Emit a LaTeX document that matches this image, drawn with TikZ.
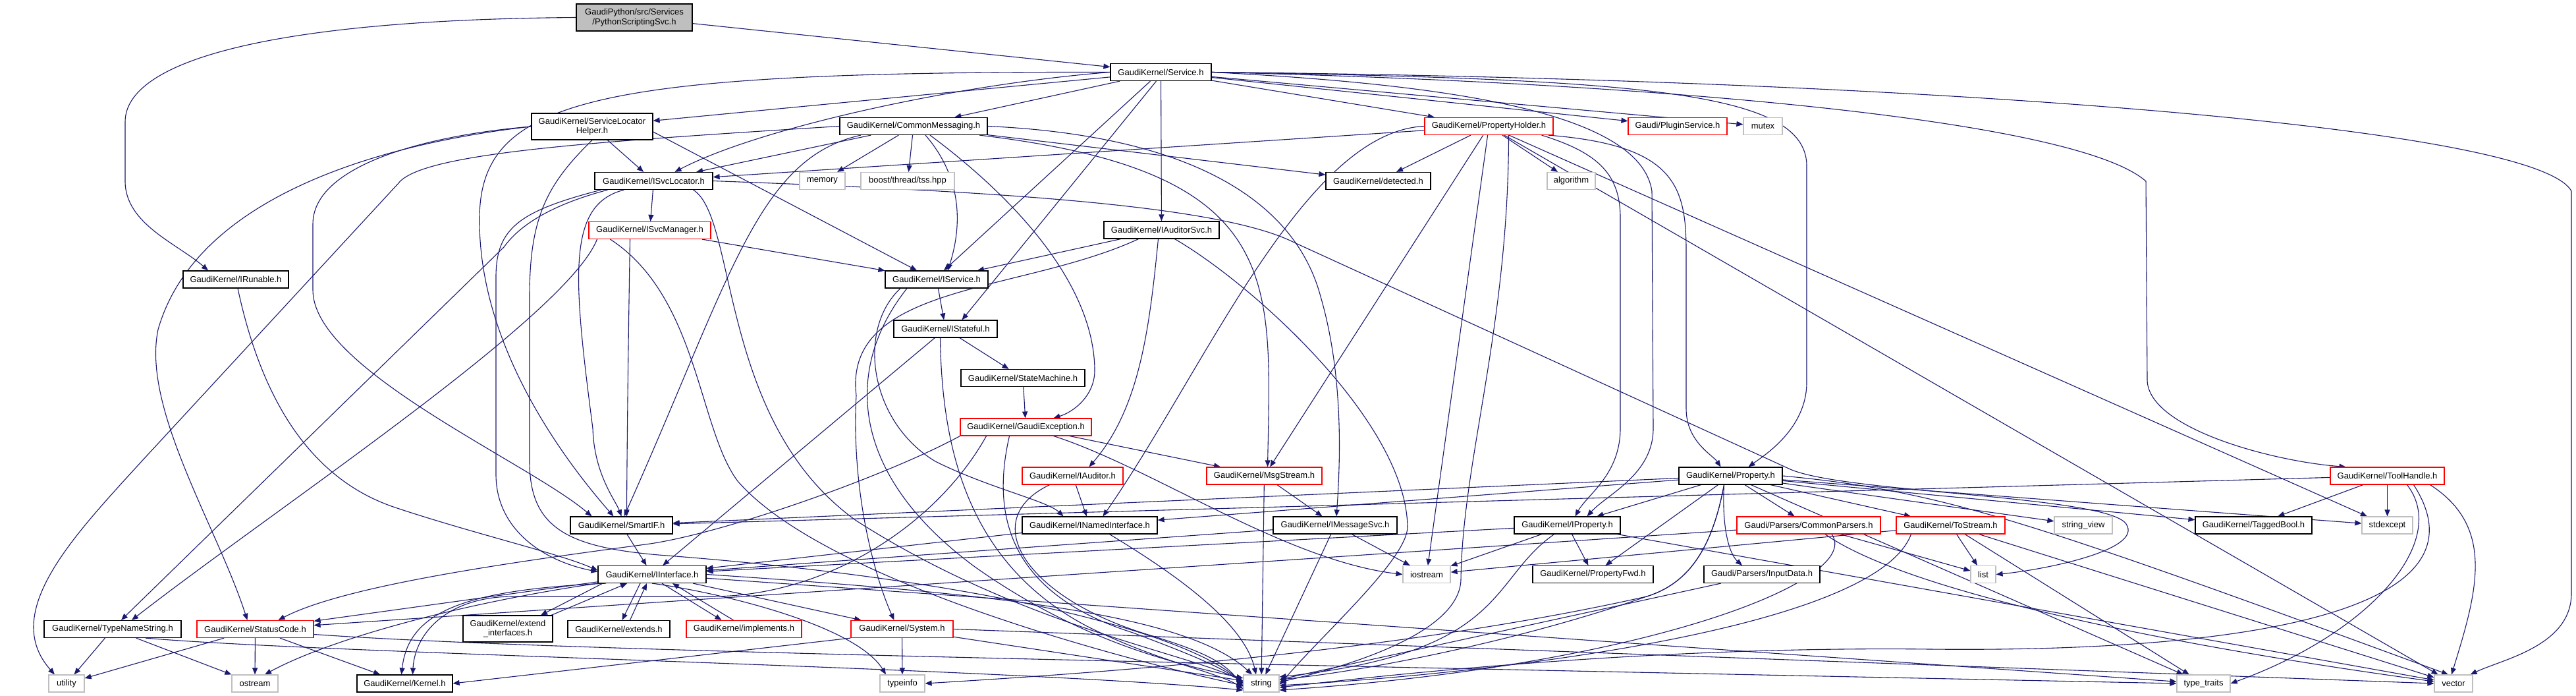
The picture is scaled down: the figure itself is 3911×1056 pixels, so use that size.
\documentclass[tikz,border=0pt]{standalone}
\usepackage{fontspec}
\setmainfont{Liberation Sans}
\usetikzlibrary{arrows.meta,backgrounds}
\definecolor{edgec}{HTML}{191970}
\definecolor{grayb}{HTML}{BFBFBF}
\newcommand\dgfont{\fontsize{13}{14.5}\selectfont}
\begin{document}
\begin{tikzpicture}[x=1pt,y=-1pt,
  nd/.style={draw=black, fill=white, line width=1.2pt, inner sep=0pt, minimum height=26pt, align=center, font=\dgfont},
  rd/.style={nd, draw=red},
  gy/.style={nd, draw=grayb},
  rt/.style={nd, fill=grayb},
  ed/.style={draw=edgec, line width=1.1pt, -{Triangle[length=10pt,width=8pt]}},
]
\useasboundingbox (0,0) rectangle (3911,1056);
% ---------- nodes ----------
\node[rt, minimum width=176pt, minimum height=41pt] (root) at (963,26.5) {GaudiPython/src/Services\\/PythonScriptingSvc.h};
\node[nd, minimum width=153pt] (service) at (1762.5,109.5) {GaudiKernel/Service.h};
\node[nd, minimum width=184pt, minimum height=40pt] (slh) at (899,192) {GaudiKernel/ServiceLocator\\Helper.h};
\node[nd, minimum width=224pt] (cmsg) at (1387,191.5) {GaudiKernel/CommonMessaging.h};
\node[rd, minimum width=195pt] (propholder) at (2260.5,191.5) {GaudiKernel/PropertyHolder.h};
\node[rd, minimum width=150pt] (pluginsvc) at (2547,191.5) {Gaudi/PluginService.h};
\node[gy, minimum width=59pt] (mutex) at (2676.5,191.5) {mutex};
\node[nd, minimum width=179pt] (isvcloc) at (992.5,274.5) {GaudiKernel/ISvcLocator.h};
\node[gy, minimum width=69pt] (memory) at (1248.5,274.5) {memory};
\node[gy, minimum width=142pt] (boost) at (1378,274.5) {boost/thread/tss.hpp};
\node[nd, minimum width=159pt] (detected) at (2092.5,274.5) {GaudiKernel/detected.h};
\node[gy, minimum width=73pt] (algorithm) at (2385.5,274.5) {algorithm};
\node[rd, minimum width=185pt] (isvcmgr) at (986.5,349.5) {GaudiKernel/ISvcManager.h};
\node[nd, minimum width=175pt] (iauditorsvc) at (1763.5,349) {GaudiKernel/IAuditorSvc.h};
\node[nd, minimum width=156pt] (iservice) at (1422,424) {GaudiKernel/IService.h};
\node[nd, minimum width=160pt] (irunable) at (358,424) {GaudiKernel/IRunable.h};
\node[nd, minimum width=157pt] (istateful) at (1435.5,499) {GaudiKernel/IStateful.h};
\node[nd, minimum width=188pt] (statemachine) at (1553,573.5) {GaudiKernel/StateMachine.h};
\node[rd, minimum width=199pt] (gaudiexc) at (1557.5,648) {GaudiKernel/GaudiException.h};
\node[rd, minimum width=153pt] (iauditor) at (1628.5,722) {GaudiKernel/IAuditor.h};
\node[rd, minimum width=175pt] (msgstream) at (1919.5,722) {GaudiKernel/MsgStream.h};
\node[nd, minimum width=157pt] (property) at (2627.5,722) {GaudiKernel/Property.h};
\node[rd, minimum width=173pt] (toolhandle) at (3624.5,722) {GaudiKernel/ToolHandle.h};
\node[nd, minimum width=155pt] (smartif) at (943.5,797) {GaudiKernel/SmartIF.h};
\node[nd, minimum width=205pt] (inamed) at (1654.5,797) {GaudiKernel/INamedInterface.h};
\node[nd, minimum width=188pt] (imsgsvc) at (2027,797) {GaudiKernel/IMessageSvc.h};
\node[nd, minimum width=161pt] (iproperty) at (2379.5,797) {GaudiKernel/IProperty.h};
\node[rd, minimum width=218pt] (commonparsers) at (2746,797) {Gaudi/Parsers/CommonParsers.h};
\node[rd, minimum width=165pt] (tostream) at (2961.5,797) {GaudiKernel/ToStream.h};
\node[gy, minimum width=88pt] (stringview) at (3163,797) {string\_view};
\node[nd, minimum width=177pt] (taggedbool) at (3421.5,797) {GaudiKernel/TaggedBool.h};
\node[gy, minimum width=77pt] (stdexcept) at (3624.5,797) {stdexcept};
\node[nd, minimum width=164pt] (iinterface) at (990,871.5) {GaudiKernel/IInterface.h};
\node[gy, minimum width=72pt] (iostream) at (2166,871.5) {iostream};
\node[nd, minimum width=183pt] (propertyfwd) at (2418.5,871.5) {GaudiKernel/PropertyFwd.h};
\node[nd, minimum width=176pt] (inputdata) at (2675,871.5) {Gaudi/Parsers/InputData.h};
\node[gy, minimum width=38pt] (list) at (3011,871.5) {list};
\node[nd, minimum width=208pt] (typenamestring) at (171,954.5) {GaudiKernel/TypeNameString.h};
\node[rd, minimum width=177pt] (statuscode) at (387.5,954.5) {GaudiKernel/StatusCode.h};
\node[nd, minimum width=136pt, minimum height=40pt] (extendif) at (771,954) {GaudiKernel/extend\\\_interfaces.h};
\node[nd, minimum width=155pt] (extends) at (939.5,954.5) {GaudiKernel/extends.h};
\node[rd, minimum width=175pt] (implements) at (1129.5,954.5) {GaudiKernel/implements.h};
\node[rd, minimum width=155pt] (system) at (1369.5,954.5) {GaudiKernel/System.h};
\node[gy, minimum width=54pt] (utility) at (101,1037) {utility};
\node[gy, minimum width=70pt] (ostream) at (387,1037) {ostream};
\node[nd, minimum width=145pt] (kernel) at (614.5,1037) {GaudiKernel/Kernel.h};
\node[gy, minimum width=68pt] (typeinfo) at (1370,1037) {typeinfo};
\node[gy, minimum width=54pt] (string) at (1915,1037) {string};
\node[gy, minimum width=81pt] (typetraits) at (3345.5,1037) {type\_traits};
\node[gy, minimum width=58pt] (vector) at (3725,1037) {vector};
% ---------- edges ----------
\begin{scope}[on background layer]
\fill[white] (0,0) rectangle (3911,1056);
% root
\draw[ed] (root) -- (service);
\draw[ed] (root.west) .. controls (420,30) and (190,90) .. (190,185) -- (190,275) .. controls (190,340) and (270,370) .. ([xshift=-42]irunable.north);
% Service.h
\draw[ed] (service) -- (slh);
\draw[ed] (service.west) .. controls (1450,128) and (1150,195) .. ([xshift=32]isvcloc.north);
\draw[ed] (service) -- (cmsg);
\draw[ed] (service) -- (iauditorsvc);
\draw[ed] ([xshift=-16]service.south) -- ([xshift=11]iservice.north);
\draw[ed] ([xshift=-7]service.south) -- ([xshift=25]istateful.north);
\draw[ed] (service.west) .. controls (900,108) and (730,150) .. (728,330) .. controls (726,520) and (850,690) .. ([xshift=-12]smartif.north);
\draw[ed] (service) -- (propholder);
\draw[ed] (service) -- (pluginsvc);
\draw[ed] (service) -- (mutex);
\draw[ed] (service.east) .. controls (2500,125) and (3150,180) .. (3258,275) -- (3260,577) .. controls (3262,650) and (3450,700) .. ([xshift=-63]toolhandle.north);
\draw[ed] (service.east) .. controls (2900,120) and (3850,190) .. (3904,290) -- (3904,900) .. controls (3904,980) and (3800,1000) .. ([xshift=-4]vector.north east);
\draw[ed] (service.east) .. controls (2500,120) and (2740,140) .. (2743,250) -- (2743,580) .. controls (2743,650) and (2680,690) .. ([xshift=27]property.north);
\draw[ed] (service.east) .. controls (2200,128) and (2490,170) .. (2508,290) -- (2510,650) .. controls (2510,720) and (2440,750) .. ([xshift=30]iproperty.north);
% ServiceLocatorHelper.h
\draw[ed] (slh) -- (isvcloc);
\draw[ed] ([yshift=-8]slh.east) -- ([xshift=-30]iservice.north);
\draw[ed] (slh.west) .. controls (650,205) and (475,250) .. (475,340) -- (475,440) .. controls (475,560) and (800,700) .. ([xshift=-45]smartif.north);
\draw[ed] (slh.west) .. controls (600,215) and (300,290) .. (240,500) .. controls (215,620) and (330,800) .. ([xshift=-12]statuscode.north);
\draw[ed] (slh.south) .. controls (830,280) and (804,330) .. (804,450) -- (804,700) .. controls (804,800) and (860,830) .. (1000,842) .. controls (1500,880) and (1800,960) .. (string.west);
% CommonMessaging.h
\draw[ed] (cmsg) -- (isvcloc);
\draw[ed] (cmsg) -- (memory);
\draw[ed] (cmsg) -- (boost);
\draw[ed] ([xshift=18]cmsg.south) .. controls (1470,280) and (1455,360) .. ([xshift=17]iservice.north);
\draw[ed] ([xshift=25]cmsg.south) .. controls (1540,300) and (1660,430) .. (1662,560) .. controls (1663,600) and (1630,625) .. ([xshift=42]gaudiexc.north);
\draw[ed] ([xshift=100]cmsg.south) .. controls (1950,260) and (1930,420) .. ([xshift=5]msgstream.north);
\draw[ed] (cmsg.east) .. controls (1800,205) and (1965,300) .. (2005,450) .. controls (2040,570) and (2035,700) .. ([xshift=2]imsgsvc.north);
\draw[ed] (cmsg) -- (detected);
\draw[ed] ([xshift=-80]cmsg.south) .. controls (1150,240) and (1110,420) .. ([xshift=4]smartif.north);
\draw[ed] (cmsg.west) .. controls (900,215) and (640,232) .. (605,278) -- (215,700) .. controls (110,815) and (0,930) .. ([xshift=-18]utility.north);
% PropertyHolder.h
\draw[ed] (propholder) -- (isvcloc);
\draw[ed] (propholder) -- (detected);
\draw[ed] (propholder) -- (algorithm);
\draw[ed] (propholder.west) .. controls (1980,200) and (1830,560) .. ([xshift=20]inamed.north);
\draw[ed] (propholder) -- (msgstream);
\draw[ed] ([xshift=80]propholder.south) .. controls (2420,230) and (2460,260) .. (2460,330) -- (2460,650) .. controls (2460,720) and (2410,750) .. ([xshift=12]iproperty.north);
\draw[ed] ([xshift=90]propholder.south) .. controls (2540,220) and (2560,280) .. (2560,380) -- (2560,620) .. controls (2560,670) and (2600,690) .. ([xshift=-15]property.north);
\draw[ed] (propholder) -- (iostream);
\draw[ed] ([xshift=30]propholder.south) .. controls (2290,500) and (2220,700) .. (2218,880) .. controls (2215,960) and (2050,1010) .. ([yshift=2]string.east);
\draw[ed] (propholder) -- (stdexcept);
\draw[ed] (propholder) -- (vector);
% ISvcLocator.h
\draw[ed] (isvcloc) -- (isvcmgr);
\draw[ed] ([xshift=-80]isvcloc.south) .. controls (790,320) and (753,345) .. (753,420) -- (753,720) .. controls (753,800) and (820,850) .. ([yshift=4]iinterface.west);
\draw[ed] ([xshift=-45]isvcloc.south) .. controls (860,310) and (870,420) .. (900,650) .. controls (902,720) and (935,760) .. (smartif.north);
\draw[ed] ([xshift=-70]isvcloc.south) .. controls (840,310) and (790,340) .. (765,375) -- ([xshift=13]typenamestring.north);
\draw[ed] (isvcloc.east) .. controls (1500,290) and (1850,310) .. (1965,368) -- (2718,712) .. controls (2800,748) and (3200,752) .. (3228,795) .. controls (3255,835) and (3100,865) .. (list.east);
\draw[ed] ([xshift=60]isvcloc.south) .. controls (1120,330) and (1090,640) .. (1300,790) .. controls (1550,950) and (1800,990) .. ([yshift=3]string.west);
% ISvcManager.h
\draw[ed] (isvcmgr) -- (iservice);
\draw[ed] ([xshift=-30]isvcmgr.south) .. controls (955,450) and (952,650) .. ([xshift=8]smartif.north);
\draw[ed] ([xshift=-80]isvcmgr.south) .. controls (860,480) and (420,770) .. ([xshift=29]typenamestring.north);
\draw[ed] ([xshift=-60]isvcmgr.south) .. controls (1060,450) and (1060,650) .. (1120,730) .. controls (1250,880) and (1700,1000) .. ([yshift=-3]string.west);
% IAuditorSvc.h
\draw[ed] (iauditorsvc) -- (iservice);
\draw[ed] ([xshift=-5]iauditorsvc.south) .. controls (1745,500) and (1730,620) .. ([xshift=25]iauditor.north);
\draw[ed] ([xshift=-35]iauditorsvc.south) .. controls (1550,445) and (1280,430) .. (1300,600) .. controls (1292,750) and (1330,880) .. ([xshift=-12]system.north);
\draw[ed] ([xshift=20]iauditorsvc.south) .. controls (1900,430) and (2135,640) .. (2137,800) .. controls (2135,850) and (2010,960) .. ([yshift=-2]string.east);
% IRunable.h
\draw[ed] ([xshift=3]irunable.south) .. controls (400,620) and (480,730) .. (600,770) .. controls (720,810) and (850,840) .. ([yshift=6]iinterface.west);
% IService.h
\draw[ed] (iservice) -- (istateful);
\draw[ed] ([xshift=-55]iservice.south) .. controls (1300,500) and (1320,640) .. (1420,700) .. controls (1500,740) and (1590,760) .. ([xshift=-40]inamed.north);
\draw[ed] ([xshift=-45]iservice.south) .. controls (1280,560) and (1290,720) .. (1480,860) .. controls (1650,980) and (1800,1010) .. ([yshift=8]string.west);
% IStateful.h
\draw[ed] (istateful) -- (statemachine);
\draw[ed] (istateful) -- (iinterface);
\draw[ed] ([xshift=-8]istateful.south) .. controls (1430,700) and (1480,860) .. (1650,950) .. controls (1760,1005) and (1850,1020) .. ([yshift=-8]string.west);
% StateMachine.h
\draw[ed] (statemachine) -- (gaudiexc);
% GaudiException.h
\draw[ed] (gaudiexc) -- (msgstream);
\draw[ed] (gaudiexc.south west) .. controls (1350,720) and (1100,810) .. (980,826) .. controls (760,855) and (520,890) .. ([xshift=35]statuscode.north);
\draw[ed] ([xshift=-60]gaudiexc.south) .. controls (1420,800) and (1250,905) .. (1080,905) -- (780,905) .. controls (680,905) and (630,960) .. ([xshift=12]kernel.north);
\draw[ed] ([xshift=-25]gaudiexc.south) .. controls (1505,780) and (1530,900) .. (1720,960) .. controls (1800,990) and (1850,1010) .. ([yshift=1]string.west);
\draw[ed] (gaudiexc) .. controls (1750,710) and (1950,850) .. (iostream.west);
% IAuditor.h
\draw[ed] (iauditor) -- (inamed);
\draw[ed] ([xshift=-35]iauditor.south) .. controls (1480,790) and (1560,910) .. (1750,965) .. controls (1830,990) and (1860,1005) .. ([yshift=-5]string.west);
% MsgStream.h
\draw[ed] (msgstream) -- (imsgsvc);
\draw[ed] (msgstream) -- (string);
% Property.h
\draw[ed] (property) -- (iproperty);
\draw[ed] (property) -- (propertyfwd);
\draw[ed] (property) -- (commonparsers);
\draw[ed] (property) -- (tostream);
\draw[ed] ([xshift=-10]property.south) .. controls (2614,800) and (2625,840) .. ([xshift=-30]inputdata.north);
\draw[ed] (property) -- (smartif);
\draw[ed] (property) -- (inamed);
\draw[ed] (property) -- (taggedbool);
\draw[ed] (property) -- (stringview);
\draw[ed] (property) -- (stdexcept);
\draw[ed] (property.east) .. controls (2950,745) and (3080,790) .. ([xshift=-8]vector.north);
\draw[ed] (property) -- (typetraits);
\draw[ed] ([xshift=-10]property.south) .. controls (2600,830) and (2565,885) .. (2500,905) .. controls (2300,975) and (2060,1020) .. ([yshift=6]string.east);
\draw[ed] ([xshift=-10]property.south) .. controls (2600,830) and (2565,885) .. (2500,905) .. controls (2100,995) and (1600,1025) .. (typeinfo.east);
% ToolHandle.h
\draw[ed] (toolhandle) -- (taggedbool);
\draw[ed] (toolhandle) -- (stdexcept);
\draw[ed] ([xshift=30]toolhandle.south) .. controls (3720,820) and (3600,960) .. (typetraits.east);
\draw[ed] ([xshift=40]toolhandle.south) .. controls (3790,930) and (3400,990) .. (2930,985) .. controls (2500,980) and (2100,1025) .. ([yshift=-6]string.east);
\draw[ed] ([xshift=65]toolhandle.south) .. controls (3790,800) and (3760,900) .. ([xshift=-3]vector.north);
\draw[ed] (toolhandle) -- (smartif);
% SmartIF.h, INamedInterface.h, IMessageSvc.h
\draw[ed] (smartif) -- (iinterface);
\draw[ed] (inamed) -- (iinterface);
\draw[ed] ([xshift=30]inamed.south) .. controls (1800,880) and (1890,950) .. ([xshift=-8]string.north);
\draw[ed] (imsgsvc) -- (iinterface);
\draw[ed] (imsgsvc) -- (iostream);
\draw[ed] (imsgsvc) -- (string);
% IProperty.h
\draw[ed] (iproperty) -- (iinterface);
\draw[ed] (iproperty) -- (propertyfwd);
\draw[ed] (iproperty) -- (iostream);
\draw[ed] ([xshift=-20]iproperty.south) .. controls (2260,880) and (2290,990) .. ([yshift=10]string.east);
\draw[ed] (iproperty) -- (vector);
% CommonParsers.h
\draw[ed] (commonparsers) -- (statuscode);
\draw[ed] ([xshift=35]commonparsers.south) .. controls (2830,880) and (2500,1010) .. ([yshift=-10]string.east);
\draw[ed] ([xshift=25]commonparsers.south) .. controls (2900,900) and (3300,980) .. ([yshift=3]vector.west);
\draw[ed] (commonparsers) -- (list);
% ToStream.h
\draw[ed] (tostream) -- (iostream);
\draw[ed] (tostream) -- (list);
\draw[ed] ([xshift=-60]tostream.south) .. controls (2850,950) and (2300,1020) .. ([yshift=-3]string.east);
\draw[ed] (tostream) -- (typetraits);
\draw[ed] (tostream) -- (vector);
% InputData.h
\draw[ed] (inputdata) -- (string);
% IInterface.h
\draw[ed] ([xshift=-70]iinterface.south) .. controls (700,895) and (620,930) .. ([xshift=-5]kernel.north);
\draw[ed] (iinterface) -- (statuscode);
\draw[ed] (iinterface) -- (system);
\draw[ed] (iinterface.south west) .. controls (700,915) and (500,970) .. ([xshift=15]ostream.north);
\draw[ed] (iinterface.east) .. controls (1500,900) and (1800,930) .. ([xshift=-14]string.north);
\draw[ed] (iinterface) -- (typetraits);
\draw[ed] (iinterface.south) .. controls (1100,900) and (1300,950) .. ([xshift=-25]typeinfo.north);
\draw[ed] ([xshift=-75]iinterface.south) -- ([xshift=50]extendif.north);
\draw[ed] ([xshift=66]extendif.north) -- ([xshift=-38]iinterface.south);
\draw[ed] ([xshift=-18]iinterface.south) -- ([xshift=5]extends.north);
\draw[ed] ([xshift=17]extends.north) -- ([xshift=-8]iinterface.south);
\draw[ed] ([xshift=15]iinterface.south) -- ([xshift=-34]implements.north);
\draw[ed] ([xshift=-16]implements.north) -- ([xshift=31]iinterface.south);
% System.h
\draw[ed] (system.south west) -- (kernel.east);
\draw[ed] (system) -- (typeinfo);
\draw[ed] (system) -- (string);
\draw[ed] (system.east) -- (vector.west);
% StatusCode.h
\draw[ed] (statuscode) -- (utility);
\draw[ed] (statuscode) -- (ostream);
\draw[ed] (statuscode) -- (kernel);
\draw[ed] ([yshift=-8]statuscode.east) .. controls (800,985) and (1500,1000) .. (typetraits.west);
% TypeNameString.h
\draw[ed] (typenamestring) -- (utility);
\draw[ed] (typenamestring) -- (ostream);
\draw[ed] ([xshift=50]typenamestring.south) .. controls (500,992) and (1500,1012) .. ([yshift=-10]string.west);
\end{scope}
\end{tikzpicture}
\end{document}
